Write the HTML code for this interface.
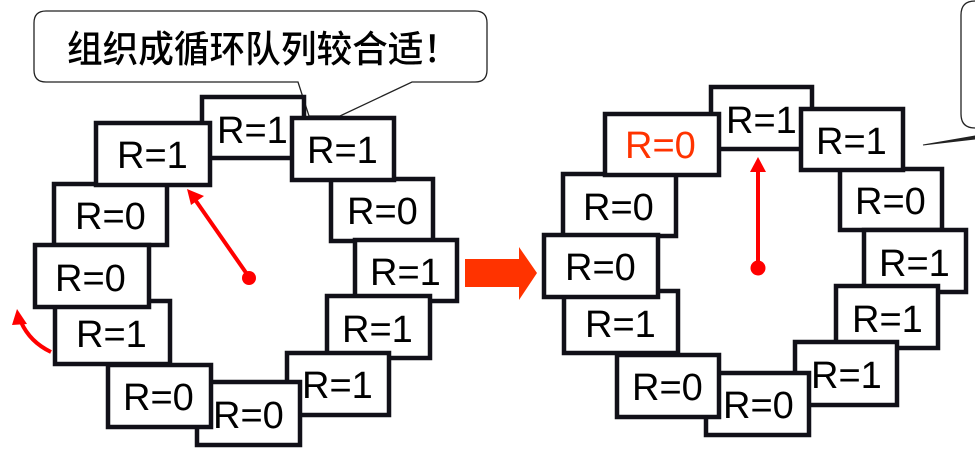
<!DOCTYPE html>
<html><head><meta charset="utf-8"><style>
html,body{margin:0;padding:0;background:#fff;width:975px;height:450px;overflow:hidden}
svg{display:block}
text{font-family:"Liberation Sans",Arial,sans-serif;font-size:38px;fill:#000}
.cn{font-family:"Liberation Sans","Noto Sans CJK SC",sans-serif;font-size:37px;font-weight:500}
rect.b{fill:#fff;stroke:#111018;stroke-width:4.5}
</style></head><body>
<svg width="975" height="450" viewBox="0 0 975 450">
<path d="M46,11 H475 Q487,11 487,23 V70 Q487,82 475,82 H412 L340,116 L309,116 L298,82 H46 Q34,82 34,70 V23 Q34,11 46,11 Z" fill="#fff" stroke="#222" stroke-width="1.3"/>
<text class="cn" x="67" y="62" textLength="392" lengthAdjust="spacingAndGlyphs">组织成循环队列较合适！</text>
<path d="M990,1 H975 Q961,1 961,15 V114 Q961,128 975,128 H990" fill="#fff" stroke="#222" stroke-width="1.3"/>
<path d="M923,145 L975,136 L975,139 Z" fill="#222" stroke="#222" stroke-width="1"/>

<g>
<rect class="b" x="202" y="97" width="102" height="61"/><text x="217" y="143">R=1</text>
<rect class="b" x="54" y="184" width="113" height="61"/><text x="75" y="229">R=0</text>
<rect class="b" x="55" y="301" width="115" height="63"/><text x="76" y="347">R=1</text>
<rect class="b" x="331" y="179" width="102" height="62"/><text x="347" y="224">R=0</text>
<rect class="b" x="355" y="240" width="102" height="61"/><text x="370" y="285">R=1</text>
<rect class="b" x="327" y="296" width="103" height="62"/><text x="342" y="342">R=1</text>
<rect class="b" x="287" y="353" width="102" height="62"/>
<rect class="b" x="197" y="382" width="103" height="63"/><text x="213" y="428">R=0</text>
<text x="302" y="398">R=1</text>
<rect class="b" x="108" y="365" width="103" height="62"/><text x="123" y="410">R=0</text>
<rect class="b" x="35" y="245" width="114" height="62"/><text x="55" y="291">R=0</text>
<rect class="b" x="96" y="123" width="114" height="62"/><text x="117" y="168">R=1</text>
<rect class="b" x="292" y="118" width="102" height="62"/><text x="307" y="163">R=1</text>
</g>
<line x1="249" y1="277" x2="196" y2="201" stroke="#f00" stroke-width="4"/>
<polygon points="187,189 204,196 191,205" fill="#f00"/>
<circle cx="249" cy="278" r="7" fill="#f00"/>
<path d="M51,352 Q30,342 21,322" fill="none" stroke="#f00" stroke-width="4"/>
<polygon points="17,309 27,324 12,325" fill="#f00"/>

<polygon points="465,259 519,259 519,247 537,273 519,300 519,287 465,287" fill="#ff3300"/>

<g>
<rect class="b" x="711" y="87" width="101" height="62"/><text x="726" y="133">R=1</text>
<rect class="b" x="563" y="174" width="113" height="62"/><text x="583" y="220">R=0</text>
<rect class="b" x="564" y="291" width="114" height="62"/><text x="585" y="337">R=1</text>
<rect class="b" x="840" y="169" width="102" height="61"/><text x="855" y="214">R=0</text>
<rect class="b" x="864" y="230" width="102" height="62"/><text x="879" y="276">R=1</text>
<rect class="b" x="836" y="286" width="102" height="62"/><text x="852" y="332">R=1</text>
<rect class="b" x="795" y="342" width="102" height="63"/>
<rect class="b" x="706" y="373" width="103" height="62"/><text x="723" y="418">R=0</text>
<text x="811" y="388">R=1</text>
<rect class="b" x="617" y="355" width="102" height="62"/><text x="632" y="400">R=0</text>
<rect class="b" x="544" y="235" width="114" height="62"/><text x="565" y="280">R=0</text>
<rect class="b" x="605" y="114" width="114" height="61"/><text x="625" y="158" style="fill:#ff3300">R=0</text>
<rect class="b" x="801" y="109" width="102" height="61"/><text x="816" y="154">R=1</text>
</g>
<line x1="758" y1="268" x2="758" y2="168" stroke="#f00" stroke-width="4"/>
<polygon points="758,157 766,172 750,172" fill="#f00"/>
<circle cx="758" cy="268" r="7.5" fill="#f00"/>
</svg>
</body></html>
